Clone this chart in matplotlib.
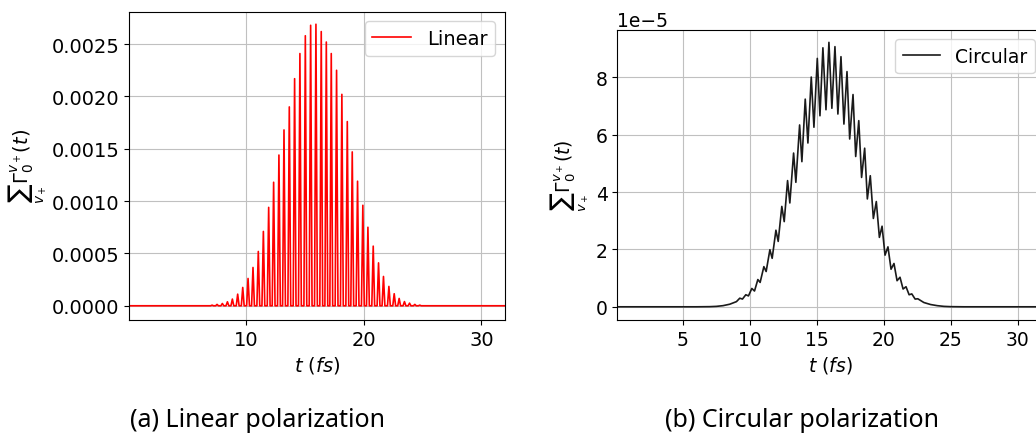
import matplotlib
matplotlib.use('Agg')
import matplotlib.pyplot as plt
import numpy as np

# linear polarization: spike peaks
lin_t = [7.15, 7.57, 8.02, 8.45, 8.87, 9.32, 9.75, 10.20, 10.62, 11.07,
         11.50, 11.95, 12.37, 12.82, 13.25, 13.70, 14.15, 14.60, 15.06, 15.51,
         15.96, 16.41, 16.84, 17.26, 17.71, 18.16, 18.62, 19.04, 19.49, 19.94,
         20.37, 20.82, 21.27, 21.69, 22.15, 22.60, 23.02, 23.47, 23.90, 24.35,
         24.77]
lin_peak = [0.006, 0.013, 0.022, 0.038, 0.064, 0.111, 0.175, 0.261, 0.366, 0.519,
            0.71, 0.94, 1.18, 1.44, 1.68, 1.90, 2.17, 2.41, 2.58, 2.68,
            2.69, 2.62, 2.52, 2.41, 2.25, 2.02, 1.76, 1.47, 1.19, 0.96,
            0.75, 0.57, 0.41, 0.28, 0.185, 0.115, 0.07, 0.04, 0.025, 0.013,
            0.006]  # x 1e-3

# circular polarization: curve vertices (peaks / troughs)
circ_t = [0.1, 6.0, 7.0, 7.5, 8.0, 8.5, 9.0, 9.25, 9.45, 9.7, 9.9, 10.15, 10.35,
          10.60, 10.77, 11.05, 11.22, 11.50, 11.67, 11.95, 12.12, 12.39, 12.57,
          12.82, 12.99, 13.27, 13.44, 13.72, 13.89, 14.14, 14.34, 14.59, 14.79,
          15.04, 15.24, 15.46, 15.69, 15.91, 16.13, 16.36, 16.58, 16.81, 17.03,
          17.26, 17.46, 17.71, 17.91, 18.14, 18.35, 18.58, 18.78, 19.00, 19.23,
          19.45, 19.68, 19.88, 20.10, 20.32, 20.55, 20.77, 21.00, 21.22, 21.45,
          21.67, 21.90, 22.10, 22.35, 22.55, 23.0, 23.5, 24.0, 24.5, 25.0, 26.0, 32.0]
circ_y = [0.0, 0.0, 0.005, 0.015, 0.04, 0.09, 0.18, 0.30, 0.27, 0.42, 0.38, 0.64, 0.55,
          0.95, 0.85, 1.40, 1.23, 1.99, 1.69, 2.67, 2.28, 3.50, 2.97,
          4.40, 3.62, 5.36, 4.34, 6.34, 5.06, 7.24, 5.71, 8.01, 6.26,
          8.66, 6.66, 9.03, 6.87, 9.22, 6.92, 9.07, 6.72, 8.72, 6.37,
          8.20, 5.85, 7.40, 5.24, 6.49, 4.51, 5.53, 3.76, 4.57, 3.08,
          3.67, 2.42, 2.81, 1.80, 2.09, 1.31, 1.51, 0.91, 1.03, 0.62,
          0.70, 0.42, 0.45, 0.27, 0.28, 0.15, 0.08, 0.04, 0.015, 0.005, 0.0, 0.0]  # x 1e-5

t_min, t_max = 0.1, 32.0
half_w = 0.12  # half base width of each spike

# spike vertices for the linear curve
lx = [t_min]
ly = [0.0]
for t, p in zip(lin_t, lin_peak):
    lx += [t - half_w, t, t + half_w]
    ly += [0.0, p * 1e-3, 0.0]
lx.append(t_max)
ly.append(0.0)

fig = plt.figure(figsize=(10.36, 4.35), dpi=100)
W, H = 1036.0, 435.0

# (a) linear
ax1 = fig.add_axes([129 / W, 1 - 321 / H, 376 / W, (321 - 12.7) / H])
ax1.plot(lx, ly, color='red', lw=1.2, label='Linear')
ax1.set_xlim(t_min, t_max)
ax1.set_ylim(-0.000136, 0.00281)
ax1.set_xticks([10, 20, 30])
ax1.set_yticks(np.arange(0, 0.0026, 0.0005))
ax1.grid(True, color='#c0c0c0')
ax1.tick_params(labelsize=14)
ax1.set_xlabel(r'$t\ (fs)$', fontsize=14)
ax1.set_ylabel(r'$\sum_{v_+}\Gamma_0^{v_+}(t)$', fontsize=14)
ax1.yaxis.set_label_coords(-0.212, 0.5)
ax1.legend(loc='upper right', fontsize=14)

# (b) circular
ax2 = fig.add_axes([617.3 / W, 1 - 321 / H, 427 / W, (321 - 31) / H])
ax2.plot(circ_t, np.array(circ_y) * 1e-5, color='#1a1a1a', lw=1.2, label='Circular')
ax2.set_xlim(t_min, t_max)
ax2.set_ylim(-0.46e-5, 9.65e-5)
ax2.set_xticks([5, 10, 15, 20, 25, 30])
ax2.set_yticks([0, 2e-5, 4e-5, 6e-5, 8e-5])
ax2.grid(True, color='#c0c0c0')
ax2.tick_params(labelsize=13.5)
ax2.yaxis.get_offset_text().set_fontsize(13.5)
ax2.set_xlabel(r'$t\ (fs)$', fontsize=13.5)
ax2.set_ylabel(r'$\sum_{v_+}\Gamma_0^{v_+}(t)$', fontsize=13.5)
ax2.yaxis.set_label_coords(-0.062, 0.5)
ax2.legend(loc='upper right', fontsize=13.5)

fig.text(257 / W, 1 - 421 / H, '(a) Linear polarization', ha='center', va='center',
         fontsize=18, family='Noto Sans')
fig.text(802 / W, 1 - 421 / H, '(b) Circular polarization', ha='center', va='center',
         fontsize=18, family='Noto Sans')

fig.savefig('out.png', dpi=100)
